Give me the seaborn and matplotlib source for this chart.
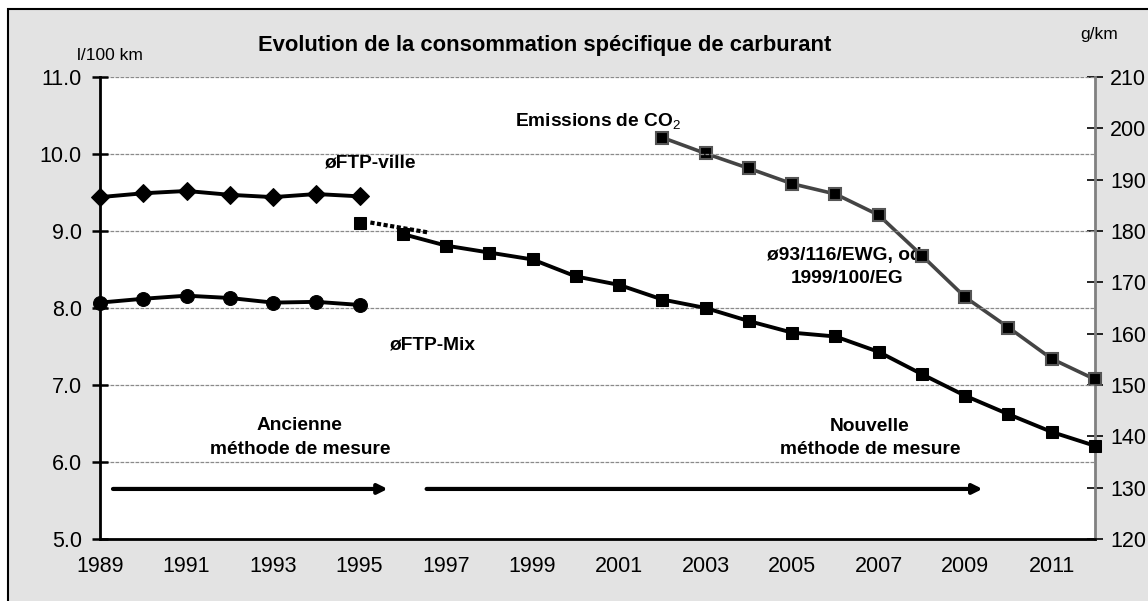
import matplotlib
matplotlib.use("Agg")
import matplotlib.pyplot as plt
from matplotlib.patches import Rectangle
import numpy as np
import pandas as pd
import seaborn as sns

# ---- data ----
years_old = [1989, 1990, 1991, 1992, 1993, 1994, 1995]
ftp_ville = [9.44, 9.49, 9.52, 9.47, 9.44, 9.48, 9.45]
ftp_mix = [8.07, 8.12, 8.16, 8.13, 8.07, 8.08, 8.04]

year_1995 = [1995]
new_1995 = [9.11]
years_new = list(range(1996, 2013))
new_method = [8.96, 8.81, 8.72, 8.63, 8.41, 8.30, 8.11, 8.00, 7.83, 7.68,
              7.63, 7.43, 7.14, 6.86, 6.62, 6.39, 6.21]

years_co2 = list(range(2002, 2013))
co2 = [198.2, 195.1, 192.2, 189.2, 187.2, 183.1, 175.2, 167.1, 161.2, 155.1, 151.1]

# dotted link between 1995 value and new series
link_x = [1995.25, 1996.6]
link_y = [9.11, 8.98]

# arrows (old / new method)
arrow_old = [1989.3, 1995.65]
arrow_new = [1996.55, 2009.4]
arrow_y = 5.65

xticks = list(range(1989, 2013))
xlabels = [str(y) if (y - 1989) % 2 == 0 else "" for y in xticks]
yticks_left = [5.0, 6.0, 7.0, 8.0, 9.0, 10.0, 11.0]
yticks_right = [120, 130, 140, 150, 160, 170, 180, 190, 200, 210]

sns.set_style("white")
plt.rcParams['font.family'] = ['Liberation Sans', 'DejaVu Sans']
plt.rcParams['mathtext.fontset'] = 'custom'
plt.rcParams['mathtext.rm'] = 'Liberation Sans'
plt.rcParams['text.color'] = 'black'
plt.rcParams['xtick.color'] = 'black'
plt.rcParams['ytick.color'] = 'black'

fig = plt.figure(figsize=(11.48, 6.01), dpi=100)
fig.patch.set_facecolor("white")
fig.patches.append(Rectangle((8 / 1148, -0.02), 1.0, 1 - 9 / 601 + 0.02,
                             transform=fig.transFigure, facecolor="#e3e3e3",
                             edgecolor="black", linewidth=1.5, zorder=-10))

ax = fig.add_axes([100 / 1148, 1 - 539 / 601, 995 / 1148, 462 / 601])

df_old = pd.DataFrame({"year": years_old, "ville": ftp_ville, "mix": ftp_mix})
df_new = pd.DataFrame({"year": years_new, "val": new_method})
df_95 = pd.DataFrame({"year": year_1995, "val": new_1995})
df_co2 = pd.DataFrame({"year": years_co2, "co2": co2})

kw = dict(color="black", linewidth=2.8, markeredgecolor="black")
sns.lineplot(data=df_old, x="year", y="ville", ax=ax, marker="D", markersize=9, **kw)
sns.lineplot(data=df_old, x="year", y="mix", ax=ax, marker="o", markersize=10, **kw)
sns.lineplot(data=df_new, x="year", y="val", ax=ax, marker="s", markersize=9, **kw)
sns.lineplot(data=df_95, x="year", y="val", ax=ax, marker="s", markersize=9, **kw)
ax.plot(link_x, link_y, color="black", linewidth=3, linestyle=(0, (1, 0.6)))
for ln in ax.lines:
    ln.set_clip_on(False)
    ln.set_zorder(5)

ax.annotate("", xy=(arrow_old[1], arrow_y), xytext=(arrow_old[0], arrow_y),
            arrowprops=dict(arrowstyle="-|>", color="black", lw=3, mutation_scale=14,
                            shrinkA=0, shrinkB=0))
ax.annotate("", xy=(arrow_new[1], arrow_y), xytext=(arrow_new[0], arrow_y),
            arrowprops=dict(arrowstyle="-|>", color="black", lw=3, mutation_scale=14,
                            shrinkA=0, shrinkB=0))

ax.set_xlim(1989, 2012)
ax.set_ylim(5.0, 11.0)
ax.set_xticks(xticks)
ax.set_xticklabels(xlabels)
ax.set_yticks(yticks_left)
ax.set_yticklabels([f"{v:.1f}" for v in yticks_left])
ax.set_xlabel("")
ax.set_ylabel("")
ax.grid(axis="y", color="#8a8a8a", linewidth=0.9, linestyle=(0, (3, 1)))
ax.grid(axis="x", visible=False)
ax.tick_params(axis="both", direction="inout", length=12, width=1.8, color="black",
               labelsize=15.5, pad=7)
ax.tick_params(axis="x", pad=6)
for s in ["top", "right"]:
    ax.spines[s].set_visible(False)
for s in ["left", "bottom"]:
    ax.spines[s].set_color("black")
    ax.spines[s].set_linewidth(2)

ax2 = ax.twinx()
sns.lineplot(data=df_co2, x="year", y="co2", ax=ax2, color="#444444", linewidth=2.6,
             marker="s", markersize=8, markerfacecolor="black", markeredgecolor="#555555",
             markeredgewidth=1.5)
for ln in ax2.lines:
    ln.set_clip_on(False)
    ln.set_zorder(3)
ax2.set_ylim(120, 210)
ax2.set_yticks(yticks_right)
ax2.set_ylabel("")
ax2.tick_params(axis="y", direction="inout", length=12, width=1.2, color="black",
                labelsize=15.5, pad=5)
for s in ["top", "left", "bottom"]:
    ax2.spines[s].set_visible(False)
ax2.spines["right"].set_color("#808080")
ax2.spines["right"].set_linewidth(2)

# white plot area behind both axes, primary axes drawn on top
ax2.patch.set_visible(True)
ax2.patch.set_facecolor("white")
ax.set_zorder(ax2.get_zorder() + 1)
ax.patch.set_visible(False)

# text labels
bold = dict(fontsize=13.8, fontweight="bold", color="black")
ax.text(1994.2, 9.88, "øFTP-ville", ha="left", va="center", **bold)
ax.text(1995.7, 7.52, "øFTP-Mix", ha="left", va="center", **bold)
ax.text(1998.6, 10.42, "Emissions de CO$_2$", ha="left", va="center", **bold)
# sits under the CO2 line, like in the original
ax2.text(2006.27, 173.0, "ø93/116/EWG, od.\n1999/100/EG", ha="center", va="center",
         linespacing=1.5, zorder=2, **bold)
ax.text(1993.62, 6.32, "Ancienne\nméthode de mesure", ha="center", va="center",
        linespacing=1.5, **bold)
ax.text(2006.8, 6.31, "Nouvelle\nméthode de mesure", ha="center", va="center",
        linespacing=1.5, **bold)

fig.text(545 / 1148, 1 - 45 / 601, "Evolution de la consommation spécifique de carburant",
         ha="center", va="center", fontsize=15.8, fontweight="bold", color="black")
fig.text(110 / 1148, 1 - 56 / 601, "l/100 km", ha="center", va="center", fontsize=12.5,
         color="black")
fig.text(1099 / 1148, 1 - 35 / 601, "g/km", ha="center", va="center", fontsize=12.5,
         color="black")

fig.savefig("out.png", dpi=100, facecolor=fig.get_facecolor())
